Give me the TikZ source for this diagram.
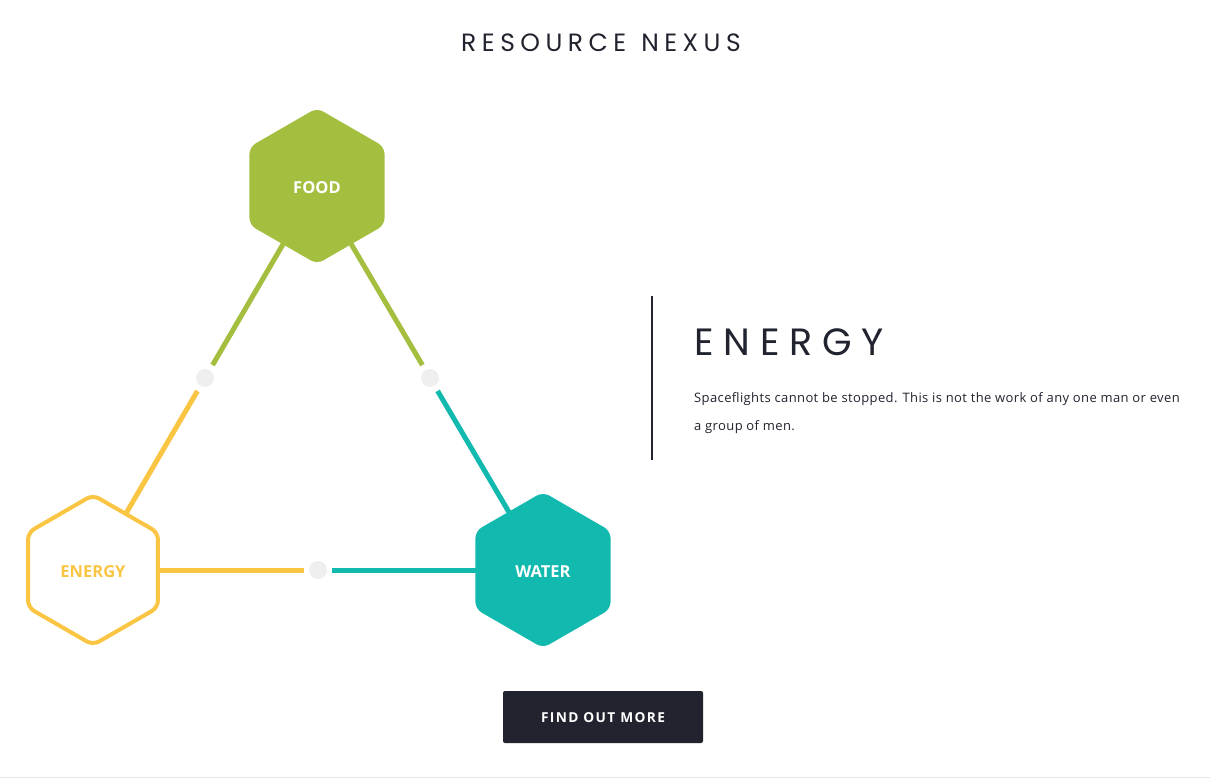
\documentclass[tikz,border=0pt]{standalone}
\usepackage{fontspec}
\setmainfont{Open Sans}
\newfontfamily\titlefont[LetterSpace=22]{Poppins}
\newfontfamily\headfont[LetterSpace=26]{Poppins}
\newfontfamily\bodyfont[LetterSpace=3]{Open Sans}
\newfontfamily\btnfont[LetterSpace=10]{Open Sans Bold}
\usetikzlibrary{calc}
\definecolor{foodgreen}{HTML}{A4BF3F}
\definecolor{waterteal}{HTML}{12B9AE}
\definecolor{energyyellow}{HTML}{F9C543}
\definecolor{darknavy}{HTML}{21232F}
\definecolor{dotgray}{HTML}{EFEFEF}
\definecolor{rulegray}{HTML}{E6E6E6}
\tikzset{
  link/.style={line width=5pt},
  middot/.style={circle, fill=dotgray, minimum size=18pt, inner sep=0pt},
  hexlabel/.style={font=\bfseries\fontsize{16.5}{19}\selectfont, inner sep=0pt},
}
\begin{document}
\begin{tikzpicture}[x=1pt,y=-1pt]
\useasboundingbox (0,0) rectangle (1210,778);
\fill[white] (0,0) rectangle (1210,778);
% hex centre nodes
\node[hexlabel, text=white] (food) at (317,186) {FOOD};
\node[hexlabel, text=energyyellow] (energy) at (93,570) {ENERGY};
\node[hexlabel, text=white] (water) at (543,570) {WATER};
% midpoints
\coordinate (mfe) at ($(food.center)!0.5!(energy.center)$);
\coordinate (mfw) at ($(food.center)!0.5!(water.center)$);
\coordinate (mew) at ($(energy.center)!0.5!(water.center)$);
\draw[link, foodgreen] (food.center) -- ($(mfe)!15pt!(food.center)$);
\draw[link, energyyellow] (energy.center) -- ($(mfe)!15pt!(energy.center)$);
\draw[link, foodgreen] (food.center) -- ($(mfw)!15pt!(food.center)$);
\draw[link, waterteal] (water.center) -- ($(mfw)!15pt!(water.center)$);
\draw[link, energyyellow] (energy.center) -- ($(mew)!14pt!(energy.center)$);
\draw[link, waterteal] (water.center) -- ($(mew)!14pt!(water.center)$);
\node[middot] (dfe) at (mfe) {};
\node[middot] (dfw) at (mfw) {};
\node[middot] (dew) at (mew) {};
% hexagons
\fill[foodgreen, rounded corners=7pt] (food.center) +(90:78) -- +(150:78) -- +(210:78) -- +(270:78) -- +(330:78) -- +(30:78) -- cycle;
\fill[waterteal, rounded corners=7pt] (water.center) +(90:78) -- +(150:78) -- +(210:78) -- +(270:78) -- +(330:78) -- +(30:78) -- cycle;
\filldraw[fill=white, draw=energyyellow, line width=4pt, rounded corners=7pt] (energy.center) +(90:75) -- +(150:75) -- +(210:75) -- +(270:75) -- +(330:75) -- +(30:75) -- cycle;
\node[hexlabel, text=white, yshift=-1.5pt] at (food) {FOOD};
\node[hexlabel, text=energyyellow, yshift=-1.5pt] at (energy) {ENERGY};
\node[hexlabel, text=white, yshift=-1.5pt] at (water) {WATER};
% title
\node[anchor=base, inner sep=0pt, text=darknavy, font=\titlefont\fontsize{25}{28}\selectfont] (title) at (601,52) {RESOURCE\hspace{0.6em}NEXUS};
% right panel
\draw[darknavy, line width=2pt] (652,296) coordinate (bartop) -- (652,460) coordinate (barbot);
\node[anchor=base west, inner sep=0pt, text=darknavy, font=\headfont\fontsize{38}{42}\selectfont] (head) at (694,355) {ENERGY};
\node[anchor=base west, inner sep=0pt, text=darknavy, font=\bodyfont\fontsize{13}{15}\selectfont] (body1) at (694,402) {Spaceflights cannot be stopped. This is not the work of any one man or even};
\node[anchor=base west, inner sep=0pt, text=darknavy, font=\bodyfont\fontsize{13}{15}\selectfont] (body2) at (694,430) {a group of men.};
% button
\fill[darknavy, rounded corners=2pt] (503,691) rectangle (703,743);
\node[anchor=base, inner sep=0pt, text=white, font=\btnfont\fontsize{13.7}{16}\selectfont] (btn) at (603,722) {FIND OUT MORE};
% bottom rule
\draw[rulegray, line width=1pt] (0,777.5) -- (1210,777.5);
\end{tikzpicture}
\end{document}
